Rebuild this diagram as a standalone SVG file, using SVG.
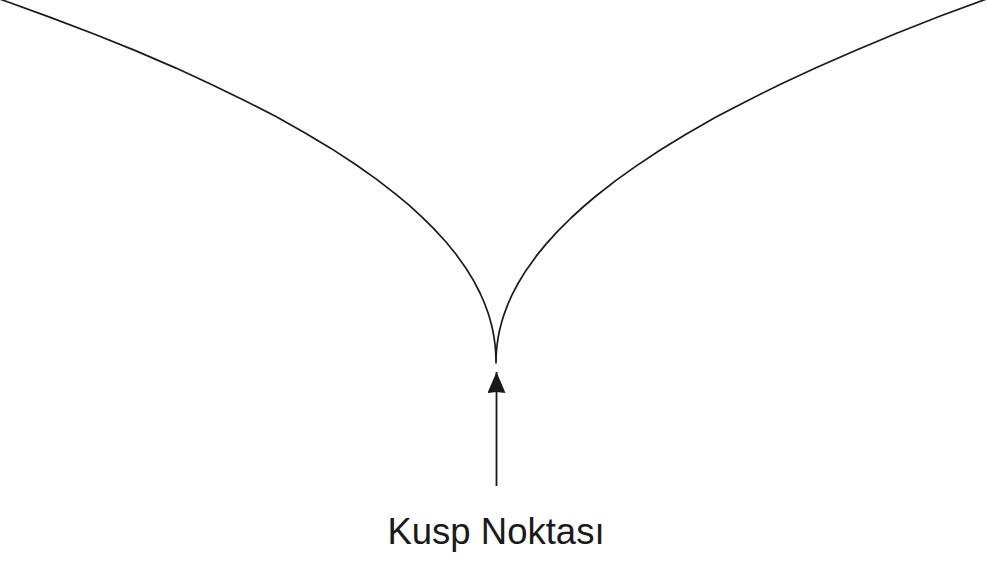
<svg xmlns="http://www.w3.org/2000/svg" width="987" height="563" viewBox="0 0 987 563">
<style>
.curve{fill:none;stroke:#1a1a1a;stroke-width:1.7;stroke-linejoin:round}
.arrow{fill:none;stroke:#1a1a1a;stroke-width:1.8}
.label{font-family:"Liberation Sans",Arial,sans-serif;font-size:36.5px;fill:#1a1a1a}
</style>
<defs>
<marker id="ah" markerUnits="userSpaceOnUse" markerWidth="22" markerHeight="20" refX="21" refY="9" orient="auto">
<path d="M0,0 L21,9 L0,18 L1,9 Z" fill="#1a1a1a"/>
</marker>
</defs>
<rect width="987" height="563" fill="#ffffff"/>
<g id="cusp-curve">
<path class="curve" d="M-14,-5.7 L6,1.3 L51,17.6 L96,34.8 L136,50.9 L176,68.1 L211,84.2 L246,101.2 L276,116.6 L306,133.4 L331,148.4 L356,164.7 L376,178.9 L396,194.3 L409,205.2 L421,216.1 L434,228.9 L446,242 L456,254.3 L466,268.3 L474,281.4 L480,293 L484,302 L488,312.8 L490,319.3 L492,327 L493,331.7 L494,337.2 L495,344.5 L495.5,349.7 L495.75,353.5 L496,363 L496.25,354.1 L496.5,350.5 L497,345.5 L498,338.4 L499,333 L500,328.5 L502,320.9 L504,314.6 L508,303.9 L512,294.9 L518,283.5 L526,270.4 L536,256.4 L546,244.1 L558,230.9 L571,218 L583,207 L596,196 L616,180.4 L636,166.1 L661,149.5 L686,134.2 L716,117.1 L746,101.4 L781,83.9 L816,67.8 L856,50.3 L896,33.5 L941,15.8 L986,-0.8 L1000,-6"/>
</g>
<g id="connectors">
<line class="arrow" x1="496.5" y1="486" x2="496.5" y2="372" marker-end="url(#ah)"/>
</g>
<g id="label">
<text class="label" x="496" y="544" text-anchor="middle">Kusp Noktası</text>
</g>
</svg>
